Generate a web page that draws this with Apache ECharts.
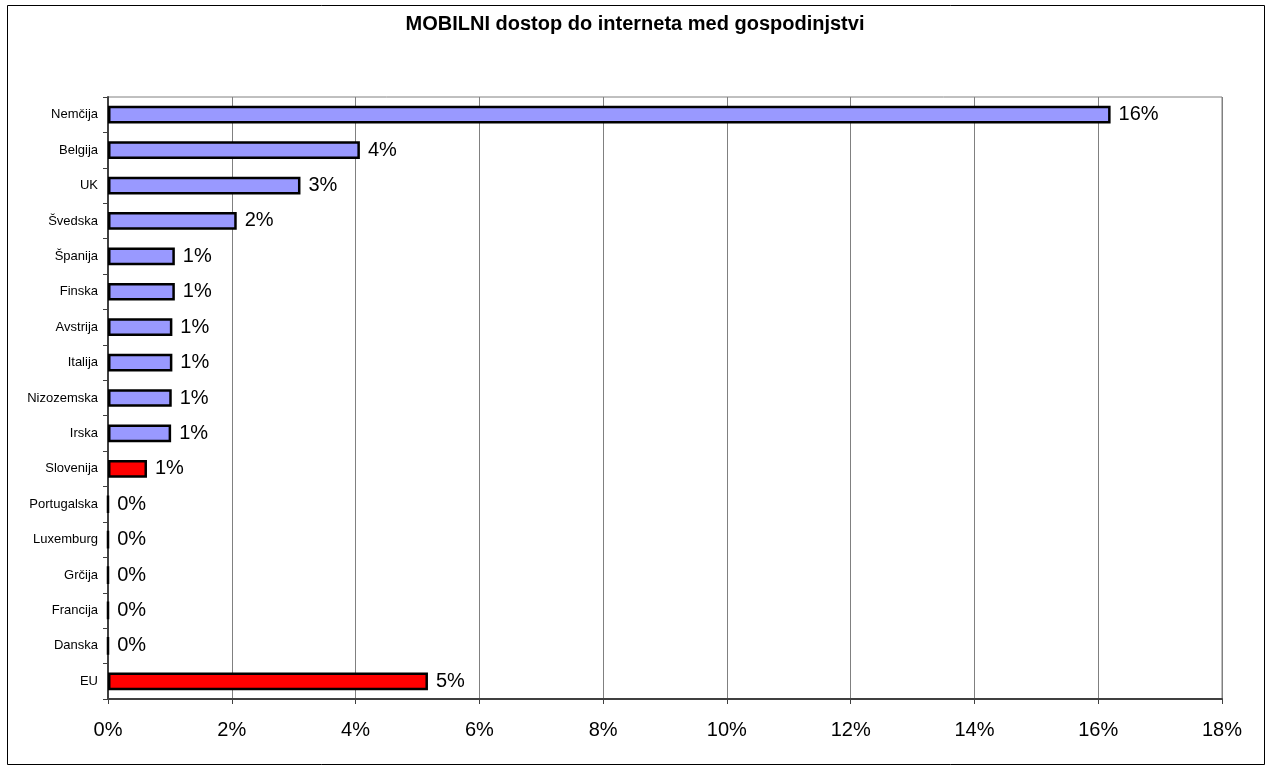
<!DOCTYPE html>
<html>
<head>
<meta charset="utf-8">
<script src="https://cdn.jsdelivr.net/npm/echarts@6/dist/echarts.min.js"></script>
<style>
  html, body { margin: 0; padding: 0; background: #fff; }
  #main { width: 1270px; height: 765px; }
</style>
</head>
<body>
<div id="main"></div>
<script>
// podatki (v %)
var countries = ['Nemčija', 'Belgija', 'UK', 'Švedska', 'Španija', 'Finska', 'Avstrija', 'Italija',
  'Nizozemska', 'Irska', 'Slovenija', 'Portugalska', 'Luxemburg', 'Grčija', 'Francija', 'Danska', 'EU'];
var shares = [16.2, 4.07, 3.11, 2.08, 1.08, 1.08, 1.04, 1.04, 1.03, 1.02, 0.63, 0, 0, 0, 0, 0, 5.17];
var highlighted = ['Slovenija', 'EU'];
var xTicks = [0, 18, 2]; // min, max, interval

var myChart = echarts.init(document.getElementById('main'));

var barData = shares.map(function (v, i) {
    return {
        value: v,
        itemStyle: { color: highlighted.indexOf(countries[i]) >= 0 ? '#FF0000' : '#9999FF' }
    };
});

var option = {
    backgroundColor: '#fff',
    animation: false,
    textStyle: { fontFamily: 'Liberation Sans, Arial, sans-serif' },
    title: {
        text: 'MOBILNI dostop do interneta med gospodinjstvi',
        left: 'center',
        top: 9,
        textStyle: { fontSize: 20, fontWeight: 'bold', color: '#000' }
    },
    graphic: [{
        type: 'rect',
        shape: { x: 7.5, y: 5.5, width: 1257, height: 759 },
        style: { fill: 'none', stroke: '#000', lineWidth: 1 },
        silent: true
    }],
    grid: {
        left: 108,
        top: 97,
        width: 1114,
        height: 602,
        show: true,
        borderColor: '#808080',
        borderWidth: 1
    },
    xAxis: {
        type: 'value',
        min: xTicks[0],
        max: xTicks[1],
        interval: xTicks[2],
        axisLine: { show: true, lineStyle: { color: '#404040', width: 2 } },
        axisTick: { show: true, length: 5, lineStyle: { color: '#404040' } },
        axisLabel: { formatter: '{value}%', fontSize: 20, color: '#000', margin: 21 },
        splitLine: { show: true, lineStyle: { color: '#808080', width: 1 } }
    },
    yAxis: {
        type: 'category',
        inverse: true,
        data: countries,
        axisLine: { show: true, lineStyle: { color: '#404040', width: 2 } },
        axisTick: { show: true, length: 5, lineStyle: { color: '#404040' } },
        axisLabel: { fontSize: 13, color: '#000', margin: 10 }
    },
    series: [{
        type: 'bar',
        data: barData,
        barCategoryGap: '50%',
        itemStyle: { borderColor: '#000', borderWidth: 2.5 },
        label: {
            show: true,
            position: 'right',
            distance: 8,
            fontSize: 20,
            color: '#000',
            formatter: function (p) { return Math.round(p.value) + '%'; }
        }
    }]
};
myChart.setOption(option);
</script>
</body>
</html>
